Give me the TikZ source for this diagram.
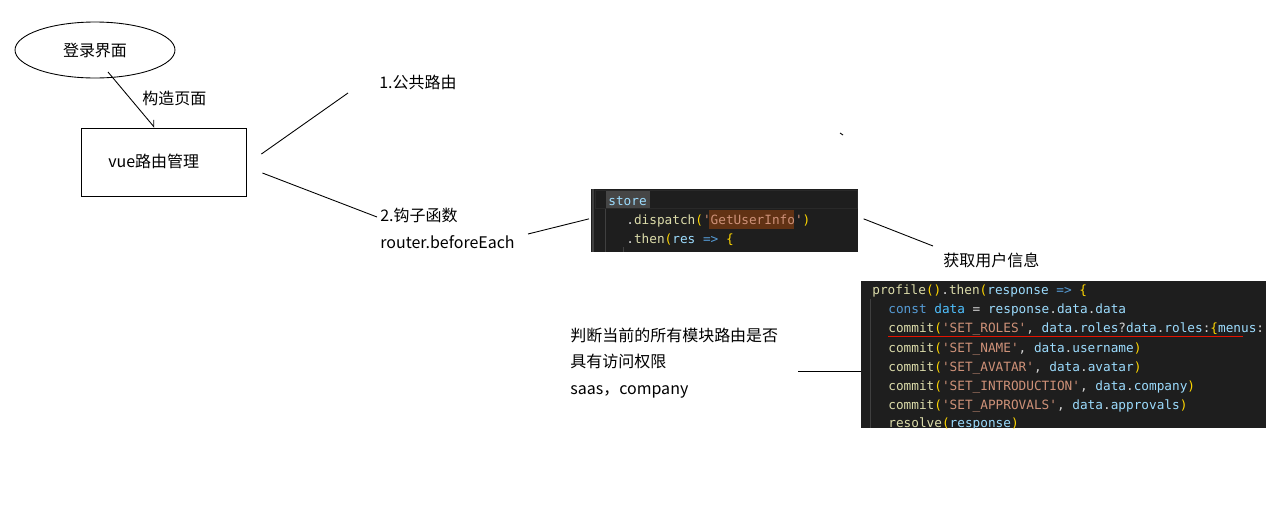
\documentclass[tikz,border=0pt]{standalone}
\usepackage{fontspec}
\setmainfont{Noto Sans CJK SC}
\setmonofont{DejaVu Sans Mono}
\usetikzlibrary{shapes.geometric,arrows.meta,calc}

% editor colours
\definecolor{codebg}{HTML}{1E1E1E}
\definecolor{codefg}{HTML}{D4D4D4}
\definecolor{codevar}{HTML}{9CDCFE}
\definecolor{codefn}{HTML}{DCDCAA}
\definecolor{codestr}{HTML}{CE9178}
\definecolor{codekw}{HTML}{569CD6}
\definecolor{codeconst}{HTML}{4FC1FF}
\definecolor{codebr}{HTML}{FFD700}
\definecolor{codeguide}{HTML}{404040}
\definecolor{selbg}{HTML}{464646}
\definecolor{findbg}{HTML}{613214}
\definecolor{squiggle}{HTML}{E51400}

\newcommand{\cvar}[1]{\textcolor{codevar}{#1}}
\newcommand{\cfn}[1]{\textcolor{codefn}{#1}}
\newcommand{\cstr}[1]{\textcolor{codestr}{#1}}
\newcommand{\ckw}[1]{\textcolor{codekw}{#1}}
\newcommand{\cconst}[1]{\textcolor{codeconst}{#1}}
\newcommand{\cbr}[1]{\textcolor{codebr}{#1}}

\begin{document}
\begin{tikzpicture}[x=0.02cm,y=-0.02cm,
  txt/.style={font=\fontsize{9.1pt}{11pt}\selectfont, inner sep=0pt, anchor=west,
              text height=7.6pt, text depth=1.6pt},
  codeline/.style={font=\ttfamily\fontsize{7.25pt}{9pt}\selectfont, inner sep=0pt, anchor=base west, text=codefg},
  codebox/.style={fill=codebg, draw=none, inner sep=0pt, anchor=north west},
  link/.style={line width=0.5pt}]

\useasboundingbox (0,0) rectangle (1282,528);

% Login page and router box
\node[draw, ellipse, link, inner sep=0pt, minimum width=3.2cm, minimum height=1.12cm,
      font=\fontsize{9.1pt}{11pt}\selectfont] (login) at (95,50) {登录界面};
\node[draw, link, minimum width=3.3cm, minimum height=1.36cm] (vuebox) at (163.5,162) {};
\node[txt] (vuetext) at (108,162) {vue路由管理};
\node[txt] (build) at (142,99) {构造页面};

\coordinate (loginfoot) at ($(login.center)+(13,22)$);
\draw[link, -{Straight Barb[left, length=3pt, width=5pt]}] (loginfoot) -- ($(vuebox.north west)+(74,0)$);

% Two branches
\node[txt] (public) at (379,83) {1.公共路由};
\node[txt] (hook) at (380,216) {2.钩子函数};
\node[txt] (hookfn) at (380,243) {router.beforeEach};

\coordinate (pubend) at (348,93);
\coordinate (hookend) at (377,217);
\draw[link] ($(vuebox.east)+(15,-8)$) -- (pubend);
\draw[link] ($(vuebox.east)+(16,11)$) -- (hookend);

% stray dot
\draw[link] (840,133) -- (843,135);

% First code snippet
\node[codebox, minimum width=5.34cm, minimum height=1.26cm] (storecode) at (591,189) {};
\begin{scope}
  \clip (storecode.north west) rectangle (storecode.south east);
  \draw[codeguide, line width=0.8pt] (593,189) -- (593,252);
  \draw[draw=black!84, fill=codebg] (595,190) rectangle (857,208);
  \fill[selbg] (606,190.5) rectangle (650,208);
  \fill[findbg] (709,210) rectangle (794,229);
  \draw[codeguide] (605,209) -- (605,252);
  \draw[codeguide] (623,247) -- (623,252);
  \node[codeline] (s1) at (608,205) {\cvar{store}};
  \node[codeline] (s2) at (626,224) {.\cfn{dispatch}\cbr{(}\cstr{'GetUserInfo'}\cbr{)}};
  \node[codeline] (s3) at (626,243) {.\cfn{then}\cbr{(}\cvar{res} \ckw{=>} \cbr{\{}};
\end{scope}

\coordinate (hookfoot) at (528,234);
\draw[link] (hookfoot) -- ($(storecode.west)+(-2,-2)$);

% Second code snippet
\node[codebox, minimum width=8.1cm, minimum height=2.94cm] (profilecode) at (861,281) {};
\begin{scope}
  \clip (profilecode.north west) rectangle (profilecode.south east);
  \draw[codeguide] (870,299) -- (870,428);
  \node[codeline] (p1) at (872,294) {\cfn{profile}\cbr{()}.\cfn{then}\cbr{(}\cvar{response} \ckw{=>} \cbr{\{}};
  \node[codeline] (p2) at (888,313.3) {\ckw{const} \cconst{data} = \cvar{response}.\cvar{data}.\cvar{data}};
  \node[codeline] (p3) at (888,332.7) {\cfn{commit}\cbr{(}\cstr{'SET\_ROLES'}, \cvar{data}.\cvar{roles}?\cvar{data}.\cvar{roles}:\cbr{\{}\cvar{menus}:};
  \node[codeline] (p4) at (888,352) {\cfn{commit}\cbr{(}\cstr{'SET\_NAME'}, \cvar{data}.\cvar{username}\cbr{)}};
  \node[codeline] (p5) at (888,371) {\cfn{commit}\cbr{(}\cstr{'SET\_AVATAR'}, \cvar{data}.\cvar{avatar}\cbr{)}};
  \node[codeline] (p6) at (888,390) {\cfn{commit}\cbr{(}\cstr{'SET\_INTRODUCTION'}, \cvar{data}.\cvar{company}\cbr{)}};
  \node[codeline] (p7) at (888,409) {\cfn{commit}\cbr{(}\cstr{'SET\_APPROVALS'}, \cvar{data}.\cvar{approvals}\cbr{)}};
  \node[codeline] (p8) at (888,427.5) {\cfn{resolve}\cbr{(}\cvar{response}\cbr{)}};
  \draw[squiggle, line width=0.8pt] (888,336.5) -- (1243,336.5);
\end{scope}

% user info
\node[txt] (userinfo) at (943,261) {获取用户信息};
\coordinate (infoend) at (933,246);
\draw[link] ($(storecode.east)+(5,-2)$) -- (infoend);

% permission check
\node[txt] (perm1) at (570,336) {判断当前的所有模块路由是否};
\node[txt] (perm2) at (570,362) {具有访问权限};
\node[txt] (perm3) at (570,389) {saas，company};
\coordinate (permend) at (798,371);
\draw[link] (permend) -- (profilecode.west |- permend);

\end{tikzpicture}
\end{document}
